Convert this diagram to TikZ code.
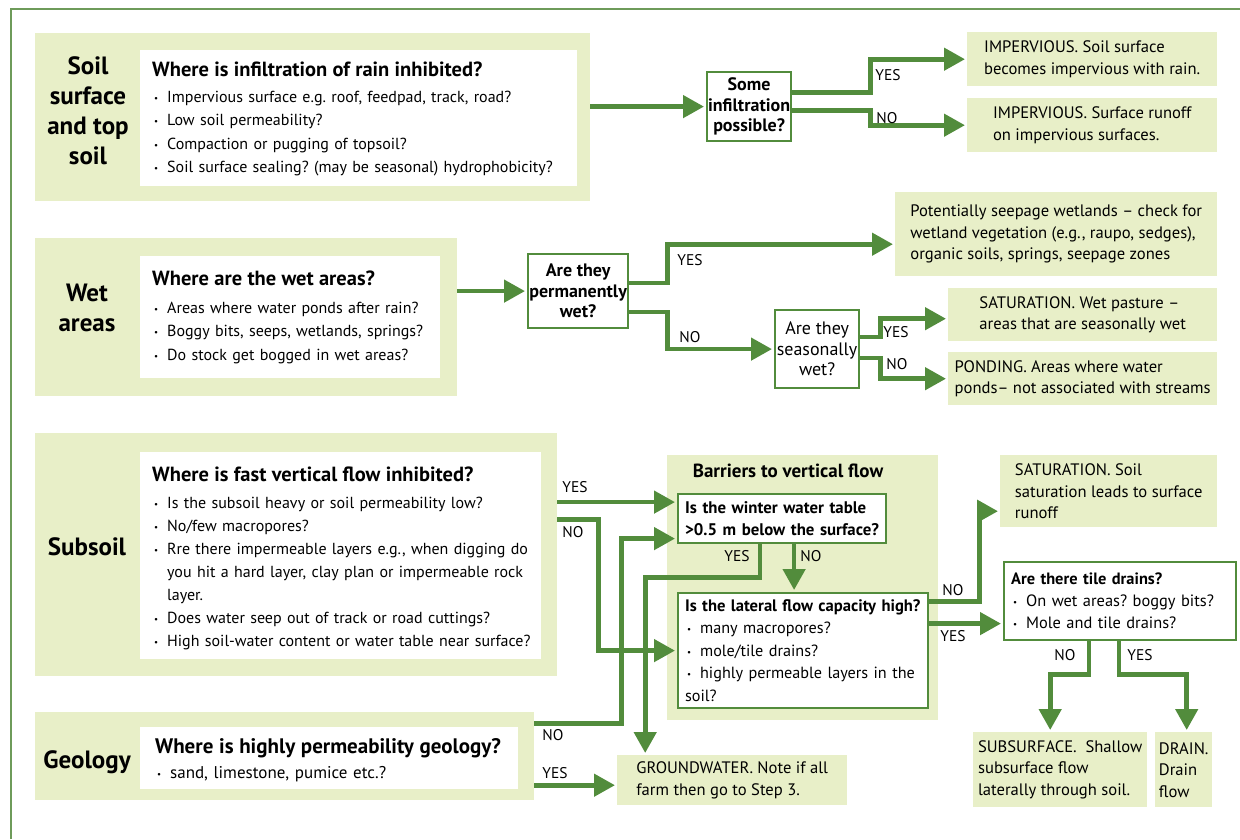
\documentclass[tikz,border=0pt]{standalone}
\usepackage{fontspec}
\setmainfont{PT Sans}
\usetikzlibrary{arrows.meta}
\definecolor{pgreen}{RGB}{232,239,200}
\definecolor{agreen}{RGB}{82,140,60}
\definecolor{fgreen}{RGB}{110,155,90}
\newcommand\bitem[1]{\par\hangindent=15pt\hangafter=1\noindent\makebox[15pt][l]{\hspace{2pt}\raisebox{1pt}{\fontsize{9}{9}\selectfont\textbullet}}#1}
\newcommand\qtitle[1]{{\fontsize{20.5}{22}\selectfont\bfseries #1\par}\vspace{2.5pt}}
\newcommand\qsub[1]{{\bfseries #1\par}}
\begin{document}
\frenchspacing
\begin{tikzpicture}[x=1pt,y=-1pt,
  panel/.style={fill=pgreen, draw=none, inner sep=0pt, anchor=north west},
  wbox/.style={fill=white, draw=none, inner sep=0pt, anchor=north west},
  res/.style={fill=pgreen, draw=none, anchor=north west, inner sep=0pt, align=left, font=\fontsize{16.6}{21.5}\selectfont},
  dec/.style={draw=agreen, line width=2.2pt, fill=white, anchor=north west, inner sep=0pt, align=center, font=\fontsize{18}{20.5}\selectfont},
  qbox/.style={draw=agreen, line width=2.2pt, fill=white, anchor=north west, inner xsep=7pt, inner ysep=0pt, align=left, font=\fontsize{16.2}{22.5}\selectfont},
  txt/.style={anchor=north west, inner sep=0pt, align=left, font=\fontsize{16}{23.3}\selectfont},
  side/.style={font=\fontsize{25}{30}\selectfont\bfseries, align=center, inner sep=0pt},
  lbl/.style={font=\fontsize{15.5}{15.5}\selectfont, inner sep=0pt},
  arr/.style={draw=agreen, line width=4.6pt, -{Triangle[length=21pt,width=22pt]}, shorten >=2pt}
]
\useasboundingbox (0,0) rectangle (1240,839);
\draw[fgreen, line width=1.5pt] (11,839) -- (11,9) -- (1240,9);

% ---------- Soil surface ----------
\node[panel, minimum width=555pt, minimum height=168pt] (soilp) at (35,33) {};
\node[wbox, minimum width=437pt, minimum height=136pt] (soilw) at (140,50) {};
\node[side] (soill) at (88,111) {Soil\\surface\\and top\\soil};
\node[txt, text width=425pt] (soilt) at (152,62) {\qtitle{Where is infiltration of rain inhibited?}
\bitem{Impervious surface e.g. roof, feedpad, track, road?}
\bitem{Low soil permeability?}
\bitem{Compaction or pugging of topsoil?}
\bitem{Soil surface sealing? (may be seasonal) hydrophobicity?}};

\node[dec, minimum width=84pt, minimum height=69pt, font=\fontsize{18}{20.5}\selectfont\bfseries] (infl) at (706,71) {Some\\infiltration\\possible?};
\node[res, minimum width=250pt, minimum height=54pt] (imp1) at (967,32) {IMPERVIOUS. Soil surface\\becomes impervious with rain.};
\node[res, minimum width=250pt, minimum height=54pt] (imp2) at (967,98) {IMPERVIOUS. Surface runoff\\on impervious surfaces.};

% ---------- Wet areas ----------
\node[panel, minimum width=422pt, minimum height=158pt] (wetp) at (35,238) {};
\node[wbox, minimum width=300pt, minimum height=122pt] (wetw) at (140,256) {};
\node[side] (wetl) at (87,308) {Wet\\areas};
\node[txt, text width=290pt] (wett) at (152,271) {\qtitle{Where are the wet areas?}\vspace{2pt}
\bitem{Areas where water ponds after rain?}
\bitem{Boggy bits, seeps, wetlands, springs?}
\bitem{Do stock get bogged in wet areas?}};

\node[dec, minimum width=100pt, minimum height=74pt, font=\fontsize{18}{20.5}\selectfont\bfseries] (perm) at (527,253) {Are they\\permanently\\wet?};
\node[dec, minimum width=84pt, minimum height=78pt] (seas) at (774,309) {Are they\\seasonally\\wet?};
\node[res, minimum width=322pt, minimum height=84pt] (pot) at (895,192) {Potentially seepage wetlands – check for\\wetland vegetation (e.g., raupo, sedges),\\organic soils, springs, seepage zones};
\node[res, minimum width=269pt, minimum height=53pt] (sat1) at (948,288) {SATURATION. Wet pasture –\\areas that are seasonally wet};
\node[res, minimum width=269pt, minimum height=53pt] (pond) at (948,352) {PONDING. Areas where water\\ponds– not associated with streams};

% ---------- Subsoil ----------
\node[panel, minimum width=522pt, minimum height=243pt] (subp) at (35,433) {};
\node[wbox, minimum width=401pt, minimum height=207pt] (subw) at (140,452) {};
\node[side] (subl) at (87,547) {Subsoil};
\node[txt, text width=390pt, font=\fontsize{16}{23}\selectfont] (subt) at (152,467) {\qtitle{Where is fast vertical flow inhibited?}\vspace{1pt}
\bitem{Is the subsoil heavy or soil permeability low?}
\bitem{No/few macropores?}
\bitem{Rre there impermeable layers e.g., when digging do\newline you hit a hard layer, clay plan or impermeable rock\newline layer.}
\bitem{Does water seep out of track or road cuttings?}
\bitem{High soil-water content or water table near surface?}};

% ---------- Geology ----------
\node[panel, minimum width=499pt, minimum height=88pt] (geop) at (35,712) {};
\node[wbox, minimum width=378pt, minimum height=62pt] (geow) at (140,727) {};
\node[side] (geol) at (87,762) {Geology};
\node[txt, text width=370pt, font=\fontsize{17}{25}\selectfont] (geot) at (155,738) {{\fontsize{21}{22}\selectfont\bfseries Where is highly permeability geology?\par}
\bitem{sand, limestone, pumice etc.?}};
\node[res, minimum width=230pt, minimum height=50pt] (gw) at (617,755) {GROUNDWATER. Note if all\\farm then go to Step 3.};

% ---------- Barriers ----------
\node[panel, minimum width=271pt, minimum height=265pt] (barp) at (667,455) {};
\node[font=\fontsize{19}{20}\selectfont\bfseries, inner sep=0pt] (bart) at (788,471) {Barriers to vertical flow};
\node[qbox, minimum width=208pt, minimum height=49pt, text width=194pt, font=\fontsize{16.8}{22}\selectfont\bfseries] (winter) at (677,493) {Is the winter water table\\>0.5 m below the surface?};
\node[qbox, minimum width=250pt, minimum height=115pt, text width=236pt] (lateral) at (677,592) {{\fontsize{16.6}{22.5}\selectfont\bfseries Is the lateral flow capacity high?\par}
\bitem{many macropores?}
\bitem{mole/tile drains?}
\bitem{highly permeable layers in the soil?}};

% ---------- Right column ----------
\node[res, minimum width=217pt, minimum height=72pt] (sat2) at (1000,455) {SATURATION. Soil\\saturation leads to surface\\runoff};
\node[qbox, minimum width=232pt, minimum height=78pt, text width=218pt, font=\fontsize{16.4}{22}\selectfont] (tile) at (1003,561) {\qsub{Are there tile drains?}
\bitem{On wet areas? boggy bits?}
\bitem{Mole and tile drains?}};
\node[res, minimum width=174pt, minimum height=75pt] (subsurf) at (973,732) {SUBSURFACE.\ \ Shallow\\subsurface flow\\laterally through soil.};
\node[res, minimum width=57pt, minimum height=75pt] (drain) at (1155,732) {DRAIN.\\Drain\\flow};

% ---------- Connectors ----------
\draw[arr] (infl.west -| soilp.east) -- (infl.west);
\draw[arr] ([yshift=14pt]infl.east) -- ++(78,0) |- (imp1.west);
\draw[arr] ([yshift=-4pt]infl.east) -- ++(78,0) |- (imp2.west);

\draw[arr] (perm.west -| wetp.east) -- (perm.west);
\draw[arr] ([yshift=8pt]perm.east) -- ++(38,0) |- ([yshift=-10pt]pot.west);
\draw[arr] ([yshift=-21pt]perm.east) -- ++(38,0) |- (seas.west);
\draw[arr] ([yshift=12pt]seas.east) -- ++(20,0) |- ([yshift=-4pt]sat1.west);
\draw[arr] ([yshift=-9pt]seas.east) -- ++(20,0) |- (pond.west);

\draw[arr] ([yshift=16.5pt]winter.west -| subp.east) -- ([yshift=16.5pt]winter.west);
\draw[arr] ([yshift=35pt]subp.east) -- ++(41,0) |- (lateral.west);
\draw[arr] ([yshift=33pt]geop.east) -- ++(87,0) |- ([yshift=-20pt]winter.west);
\draw[arr] ([yshift=-5pt]gw.west -| geop.east) -- ([yshift=-5pt]gw.west);

\draw[arr] ([xshift=-22pt]winter.south) -- ++(0,33) -| ([xshift=-87pt]gw.north);
\draw[arr] ([xshift=12pt]winter.south) -- ([xshift=12pt]winter.south |- lateral.north);

\draw[arr] ([yshift=49pt]lateral.east) -- ++(50,0) |- ([yshift=-20pt]sat2.west);
\draw[arr] ([yshift=27pt]lateral.east) -- ([yshift=27pt]lateral.east -| tile.west);

\draw[arr] ([xshift=-31pt]tile.south) -- ++(0,33) -| ([xshift=-10pt]subsurf.north);
\draw[arr] ([xshift=-1pt]tile.south) -- ++(0,33) -| ([xshift=3pt]drain.north);

% ---------- Labels ----------
\node[lbl] (l1) at (888,75) {YES};
\node[lbl] (l2) at (887,118) {NO};
\node[lbl] (l3) at (690,260) {YES};
\node[lbl] (l4) at (690,337) {NO};
\node[lbl] (l5) at (896,332) {YES};
\node[lbl] (l6) at (897,364) {NO};
\node[lbl] (l7) at (575,487) {YES};
\node[lbl] (l8) at (573,532) {NO};
\node[lbl] (l9) at (553,735) {NO};
\node[lbl] (l10) at (555,773) {YES};
\node[lbl] (l11) at (737,556) {YES};
\node[lbl] (l12) at (811,556) {NO};
\node[lbl] (l13) at (953,590) {NO};
\node[lbl] (l14) at (953,636) {YES};
\node[lbl] (l15) at (1065,655) {NO};
\node[lbl] (l16) at (1140,655) {YES};
\end{tikzpicture}
\end{document}
